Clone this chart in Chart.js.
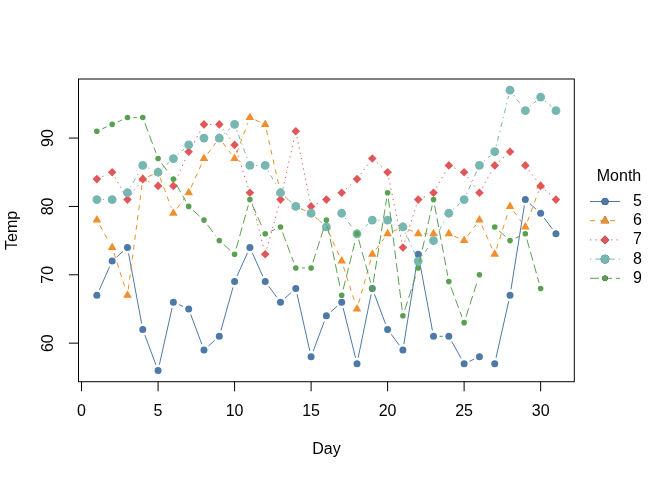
<!DOCTYPE html>
<html>
<head>
<meta charset="utf-8">
<script src="https://cdn.jsdelivr.net/npm/chart.js@4.4.1/dist/chart.umd.min.js"></script>
<style>
  html, body { margin: 0; padding: 0; background: #fff; }
  #wrap { width: 672px; height: 480px; }
</style>
</head>
<body>
<div id="wrap"><canvas id="myChart"></canvas></div>
<script>
// airquality: Temp by Day, split by Month
const days = Array.from({ length: 31 }, (_, i) => i + 1);
const months = ["5", "6", "7", "8", "9"];
const tempMay = [67, 72, 74, 62, 56, 66, 65, 59, 61, 69, 74, 69, 66, 68, 58, 64, 66, 57, 68, 62, 59, 73, 61, 61, 57, 58, 57, 67, 81, 79, 76];
const tempJun = [78, 74, 67, 84, 85, 79, 82, 87, 90, 87, 93, 92, 82, 80, 79, 77, 72, 65, 73, 76, 77, 76, 76, 76, 75, 78, 73, 80, 77, 83];
const tempJul = [84, 85, 81, 84, 83, 83, 88, 92, 92, 89, 82, 73, 81, 91, 80, 81, 82, 84, 87, 85, 74, 81, 82, 86, 85, 82, 86, 88, 86, 83, 81];
const tempAug = [81, 81, 82, 86, 85, 87, 89, 90, 90, 92, 86, 86, 82, 80, 79, 77, 79, 76, 78, 78, 77, 72, 75, 79, 81, 86, 88, 97, 94, 96, 94];
const tempSep = [91, 92, 93, 93, 87, 84, 80, 78, 75, 73, 81, 76, 77, 71, 71, 78, 67, 76, 68, 82, 64, 71, 81, 69, 63, 70, 77, 75, 76, 68];
const xTicks = [0, 5, 10, 15, 20, 25, 30];
const yTicks = [60, 70, 80, 90];

const seriesTemps = [tempMay, tempJun, tempJul, tempAug, tempSep];
const colors = ["#4E79A7", "#F28E2B", "#E15759", "#76B7B2", "#59A14F"];
const dashes = [[], [5, 5], [1.3, 4], [1.3, 4, 5, 4], [9, 4]];
const shapes = ["circle", "triangle", "rectRot", "circle", "circle"];
const radii = [3.5, 5, 4.3, 4.4, 2.8];

const FONT = "16px 'Liberation Sans', Arial, sans-serif";
const GAP = 6; // celah garis di sekitar titik (type = "b")

/**
 * Pola dash untuk satu segmen: celah di kedua ujung, pola dasar di tengah
 */
function gappedDash(base, len) {
  const inner = len - 2 * GAP;
  if (inner <= 0) return [0, 1e5];
  const out = [0, GAP];
  const pat = base.length ? base : [1e5, 0];
  let used = 0;
  for (let k = 0; k < 400; k++) {
    const seg = pat[k % pat.length];
    const isDash = k % 2 === 0;
    if (used + seg >= inner) {
      out.push(isDash ? inner - used : seg);
      break;
    }
    out.push(seg);
    used += seg;
  }
  // pastikan pola berakhir dengan celah panjang
  if (out.length % 2 === 1) out.push(1e5);
  else out[out.length - 1] = 1e5;
  return out;
}

const datasets = months.map((m, i) => ({
  label: m,
  data: seriesTemps[i].map((t, j) => ({ x: days[j], y: t })),
  borderColor: colors[i],
  backgroundColor: colors[i],
  borderWidth: 1,
  pointStyle: shapes[i],
  pointRadius: radii[i],
  pointBorderWidth: 0,
  pointHoverRadius: radii[i],
  tension: 0,
  order: -i,
  segment: {
    borderDash: (c) => {
      const len = Math.hypot(c.p1.x - c.p0.x, c.p1.y - c.p0.y);
      return gappedDash(dashes[i], len);
    },
  },
}));

/**
 * Gambar kotak, sumbu, judul dan legenda gaya R
 */
const baseAxes = {
  id: "baseAxes",
  afterDraw(chart) {
    const { ctx, chartArea: a, scales } = chart;
    const xs = scales.x, ys = scales.y;
    ctx.save();
    ctx.strokeStyle = "#000";
    ctx.fillStyle = "#000";
    ctx.lineWidth = 1;
    ctx.setLineDash([]);
    ctx.strokeRect(a.left, a.top, a.right - a.left, a.bottom - a.top);

    ctx.font = FONT;
    ctx.beginPath();
    xTicks.forEach((v) => {
      const px = xs.getPixelForValue(v);
      ctx.moveTo(px, a.bottom);
      ctx.lineTo(px, a.bottom + 9.6);
    });
    yTicks.forEach((v) => {
      const py = ys.getPixelForValue(v);
      ctx.moveTo(a.left, py);
      ctx.lineTo(a.left - 9.6, py);
    });
    ctx.stroke();

    ctx.textAlign = "center";
    ctx.textBaseline = "middle";
    xTicks.forEach((v) => {
      ctx.fillText(String(v), xs.getPixelForValue(v), 411.5);
    });
    yTicks.forEach((v) => {
      ctx.save();
      ctx.translate(49, ys.getPixelForValue(v));
      ctx.rotate(-Math.PI / 2);
      ctx.fillText(String(v), 0, 0);
      ctx.restore();
    });

    ctx.fillText("Day", (a.left + a.right) / 2, 450);
    ctx.save();
    ctx.translate(13, (a.top + a.bottom) / 2);
    ctx.rotate(-Math.PI / 2);
    ctx.fillText("Temp", 0, 0);
    ctx.restore();

    // legenda
    ctx.fillText("Month", 619, 177);
    months.forEach((m, i) => {
      const y = 201.5 + i * 19.2;
      ctx.strokeStyle = colors[i];
      ctx.setLineDash(dashes[i]);
      ctx.beginPath();
      ctx.moveTo(590, y);
      ctx.lineTo(620, y);
      ctx.stroke();
      ctx.setLineDash([]);
      Chart.helpers.drawPoint(ctx, {
        pointStyle: shapes[i],
        radius: radii[i],
        rotation: 0,
        borderWidth: 0,
      }, 605, y);
      ctx.fillStyle = colors[i];
      ctx.fill();
      ctx.fillStyle = "#000";
      ctx.textAlign = "left";
      ctx.fillText(m, 633, y);
      ctx.textAlign = "center";
    });
    ctx.restore();
  },
};

new Chart(document.getElementById("myChart"), {
  type: "line",
  data: { datasets },
  options: {
    responsive: true,
    maintainAspectRatio: false,
    animation: false,
    layout: { padding: { left: 78.5, top: 79, right: 97.7, bottom: 98.3 } },
    plugins: { legend: { display: false }, tooltip: { enabled: false } },
    scales: {
      x: { type: "linear", min: -0.2, max: 32.2, display: false },
      y: { type: "linear", min: 54.36, max: 98.64, display: false },
    },
  },
  plugins: [baseAxes],
});
</script>
</body>
</html>
